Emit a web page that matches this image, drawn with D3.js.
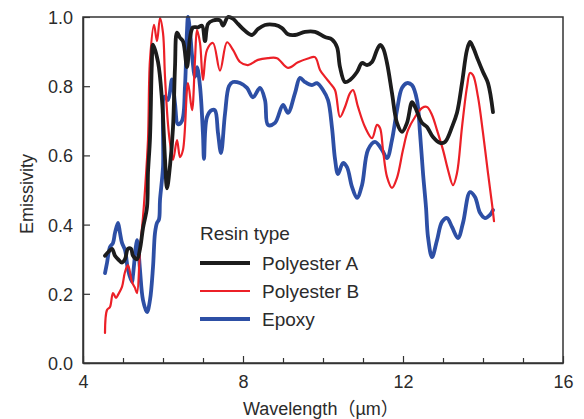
<!DOCTYPE html>
<html>
<head>
<meta charset="utf-8">
<script src="https://cdn.jsdelivr.net/npm/d3@7"></script>
<style>
  body { margin: 0; background: #fff; }
  svg text { font-family: "Liberation Sans", Arial, "Noto Sans CJK JP", sans-serif; fill: #2b2b2b; }
</style>
</head>
<body>
<div id="chart"></div>
<script>
// Emissivity spectra (wavelength in um)
const polyAWave = [4.55, 4.625, 4.725, 4.8, 4.875, 4.975, 5.05, 5.125, 5.2, 5.25, 5.35, 5.425, 5.5, 5.6, 5.625, 5.675, 5.72, 5.75, 5.875, 5.975, 6.05, 6.1, 6.175, 6.25, 6.3, 6.35, 6.425, 6.5, 6.6, 6.675, 6.75, 6.875, 6.975, 7.05, 7.125, 7.25, 7.425, 7.5, 7.625, 7.75, 7.875, 8.05, 8.225, 8.375, 8.55, 8.8, 8.975, 9.125, 9.3, 9.55, 9.8, 10.05, 10.225, 10.35, 10.425, 10.55, 10.675, 10.85, 10.975, 11.1, 11.225, 11.35, 11.425, 11.5, 11.6, 11.725, 11.85, 11.975, 12.1, 12.225, 12.3, 12.475, 12.6, 12.75, 12.925, 13.05, 13.225, 13.35, 13.475, 13.6, 13.675, 13.75, 13.875, 14.0, 14.125, 14.25];
const polyAEmis = [0.31, 0.32, 0.33, 0.31, 0.30, 0.29, 0.30, 0.33, 0.33, 0.31, 0.30, 0.33, 0.39, 0.45, 0.55, 0.65, 0.86, 0.92, 0.87, 0.76, 0.59, 0.505, 0.57, 0.68, 0.855, 0.955, 0.94, 0.93, 0.855, 0.94, 0.97, 0.97, 0.975, 0.93, 0.98, 0.99, 0.99, 0.975, 1.0, 0.995, 0.98, 0.96, 0.948, 0.965, 0.977, 0.977, 0.968, 0.95, 0.948, 0.957, 0.957, 0.942, 0.935, 0.913, 0.855, 0.812, 0.818, 0.841, 0.867, 0.861, 0.87, 0.905, 0.919, 0.91, 0.867, 0.78, 0.694, 0.668, 0.694, 0.754, 0.74, 0.694, 0.682, 0.653, 0.636, 0.639, 0.682, 0.723, 0.809, 0.905, 0.928, 0.913, 0.876, 0.841, 0.809, 0.725];

const polyBWave = [4.55, 4.6, 4.675, 4.75, 4.825, 4.875, 4.975, 5.05, 5.125, 5.225, 5.3, 5.35, 5.425, 5.5, 5.55, 5.625, 5.675, 5.775, 5.85, 5.925, 6.0, 6.05, 6.125, 6.175, 6.25, 6.35, 6.425, 6.5, 6.625, 6.725, 6.8, 6.85, 6.925, 7.0, 7.1, 7.25, 7.425, 7.6, 7.75, 7.925, 8.125, 8.375, 8.625, 8.85, 9.125, 9.375, 9.625, 9.8, 9.925, 10.05, 10.175, 10.3, 10.425, 10.55, 10.675, 10.75, 10.875, 11.05, 11.225, 11.35, 11.425, 11.5, 11.6, 11.725, 11.85, 12.0, 12.125, 12.3, 12.475, 12.6, 12.725, 12.85, 13.0, 13.125, 13.25, 13.35, 13.475, 13.6, 13.675, 13.75, 13.875, 14.0, 14.125, 14.225, 14.275];
const polyBEmis = [0.087, 0.153, 0.162, 0.202, 0.188, 0.197, 0.22, 0.263, 0.283, 0.234, 0.217, 0.202, 0.327, 0.422, 0.5, 0.645, 0.876, 0.977, 0.93, 0.997, 0.954, 0.827, 0.69, 0.636, 0.587, 0.644, 0.595, 0.616, 0.809, 0.731, 0.876, 0.962, 0.925, 0.818, 0.905, 0.925, 0.845, 0.927, 0.905, 0.87, 0.861, 0.876, 0.881, 0.881, 0.853, 0.869, 0.88, 0.884, 0.847, 0.827, 0.809, 0.789, 0.711, 0.74, 0.78, 0.789, 0.74, 0.682, 0.65, 0.688, 0.679, 0.616, 0.538, 0.506, 0.535, 0.616, 0.673, 0.711, 0.737, 0.74, 0.717, 0.673, 0.616, 0.558, 0.514, 0.549, 0.682, 0.798, 0.838, 0.832, 0.769, 0.665, 0.549, 0.46, 0.41];

const epoxyWave = [4.55, 4.6, 4.675, 4.75, 4.8, 4.875, 4.925, 4.975, 5.05, 5.125, 5.225, 5.25, 5.35, 5.375, 5.425, 5.5, 5.6, 5.675, 5.75, 5.8, 5.85, 5.9, 5.925, 6.0, 6.04, 6.125, 6.225, 6.3, 6.375, 6.475, 6.55, 6.6, 6.625, 6.675, 6.725, 6.8, 6.85, 6.925, 7.0, 7.025, 7.1, 7.225, 7.3, 7.375, 7.45, 7.55, 7.65, 7.75, 7.925, 8.1, 8.25, 8.425, 8.55, 8.625, 8.8, 9.0, 9.125, 9.3, 9.425, 9.55, 9.725, 9.85, 10.0, 10.125, 10.225, 10.3, 10.375, 10.5, 10.6, 10.725, 10.85, 10.975, 11.125, 11.3, 11.475, 11.6, 11.725, 11.85, 11.975, 12.1, 12.225, 12.35, 12.425, 12.5, 12.575, 12.625, 12.725, 12.85, 12.975, 13.1, 13.225, 13.375, 13.5, 13.675, 13.8, 13.925, 14.05, 14.175, 14.25];
const epoxyEmis = [0.26, 0.289, 0.335, 0.347, 0.376, 0.405, 0.376, 0.347, 0.327, 0.269, 0.234, 0.254, 0.355, 0.341, 0.269, 0.182, 0.147, 0.182, 0.277, 0.376, 0.405, 0.415, 0.471, 0.566, 0.77, 0.76, 0.82, 0.75, 0.69, 0.70, 0.80, 0.96, 1.0, 0.96, 0.89, 0.827, 0.855, 0.80, 0.66, 0.59, 0.711, 0.731, 0.73, 0.665, 0.607, 0.72, 0.80, 0.812, 0.809, 0.795, 0.768, 0.795, 0.76, 0.688, 0.694, 0.746, 0.723, 0.78, 0.824, 0.812, 0.803, 0.809, 0.789, 0.76, 0.68, 0.59, 0.546, 0.578, 0.566, 0.509, 0.477, 0.514, 0.616, 0.639, 0.616, 0.592, 0.645, 0.731, 0.795, 0.809, 0.803, 0.76, 0.665, 0.549, 0.45, 0.364, 0.306, 0.355, 0.408, 0.419, 0.393, 0.361, 0.405, 0.494, 0.48, 0.434, 0.419, 0.428, 0.442];

const seriesNames = ['Polyester A', 'Polyester B', 'Epoxy'];
const xMajorTicks = [4, 8, 12, 16];
const xMinorTicks = [5, 6, 7, 9, 10, 11, 13, 14, 15];
const yTicks = [0, 0.2, 0.4, 0.6, 0.8, 1.0];

const width = 584, height = 419;
const margin = { top: 17, right: 21, bottom: 56, left: 83 };
const innerW = width - margin.left - margin.right;
const innerH = height - margin.top - margin.bottom;

const series = [
    { name: seriesNames[0], wave: polyAWave, emis: polyAEmis, color: '#1c1c1c', w: 3.8 },
    { name: seriesNames[1], wave: polyBWave, emis: polyBEmis, color: '#ec2027', w: 2.2 },
    { name: seriesNames[2], wave: epoxyWave, emis: epoxyEmis, color: '#2d4fa5', w: 3.8 }
];

const svg = d3.select('#chart').append('svg')
    .attr('width', width)
    .attr('height', height);

const g = svg.append('g')
    .attr('transform', 'translate(' + margin.left + ',' + margin.top + ')');

const x = d3.scaleLinear().domain([4, 16]).range([0, innerW]);
const y = d3.scaleLinear().domain([0, 1]).range([innerH, 0]);

// clip so the lines don't spill past the frame
svg.append('defs').append('clipPath').attr('id', 'plotClip')
    .append('rect').attr('x', 0).attr('y', -3).attr('width', innerW).attr('height', innerH + 3);

const line = d3.line()
    .x(function(d) { return x(d[0]); })
    .y(function(d) { return y(d[1]); })
    .curve(d3.curveCatmullRom.alpha(0.5));

// draw blue, red, black so that black sits on top like the original
[series[2], series[1], series[0]].forEach(function(s) {
    const pts = s.wave.map(function(v, i) { return [v, s.emis[i]]; });
    g.append('path')
        .datum(pts)
        .attr('clip-path', 'url(#plotClip)')
        .attr('fill', 'none')
        .attr('stroke', s.color)
        .attr('stroke-width', s.w)
        .attr('stroke-linejoin', 'round')
        .attr('stroke-linecap', 'round')
        .attr('d', line);
});

// frame
g.append('rect')
    .attr('width', innerW)
    .attr('height', innerH)
    .attr('fill', 'none')
    .attr('stroke', '#333')
    .attr('stroke-width', 1.5);

// x axis: major ticks with labels, minor ticks without
const xAxis = g.append('g')
    .attr('transform', 'translate(0,' + innerH + ')')
    .call(d3.axisBottom(x).tickValues(xMajorTicks).tickSizeInner(-7).tickSizeOuter(0).tickPadding(12).tickFormat(d3.format('d')));
g.append('g')
    .attr('transform', 'translate(0,' + innerH + ')')
    .call(d3.axisBottom(x).tickValues(xMinorTicks).tickSizeInner(-5).tickSizeOuter(0).tickFormat(''))
    .call(function(a) { a.select('.domain').remove(); });

const yAxis = g.append('g')
    .call(d3.axisLeft(y).tickValues(yTicks).tickSizeInner(-7).tickSizeOuter(0).tickPadding(10).tickFormat(d3.format('.1f')));

[xAxis, yAxis].forEach(function(a) {
    a.select('.domain').attr('stroke', '#333').attr('stroke-width', 1.5);
});
g.selectAll('.tick line').attr('stroke', '#333').attr('stroke-width', 1.2);
g.selectAll('.tick text').attr('font-size', '18px').attr('fill', '#2b2b2b');
xAxis.selectAll('.tick text').attr('dy', '0.71em');
yAxis.selectAll('.tick text').attr('dy', '0.36em');

// axis titles
svg.append('text')
    .attr('x', 243)
    .attr('y', 415)
    .attr('font-size', '18px')
    .text('Wavelength（µm）');

svg.append('text')
    .attr('transform', 'translate(33,194) rotate(-90)')
    .attr('text-anchor', 'middle')
    .attr('font-size', '18px')
    .text('Emissivity');

// legend
const legend = svg.append('g').attr('transform', 'translate(200,240)');
legend.append('text')
    .attr('x', 0)
    .attr('y', 0)
    .attr('font-size', '19px')
    .text('Resin type');

series.forEach(function(s, i) {
    const row = legend.append('g').attr('transform', 'translate(0,' + (23 + i * 28) + ')');
    row.append('line')
        .attr('x1', 0).attr('x2', 50)
        .attr('y1', 0).attr('y2', 0)
        .attr('stroke', s.color)
        .attr('stroke-width', s.w);
    row.append('text')
        .attr('x', 62)
        .attr('y', 7)
        .attr('font-size', '19px')
        .text(s.name);
});
</script>
</body>
</html>
